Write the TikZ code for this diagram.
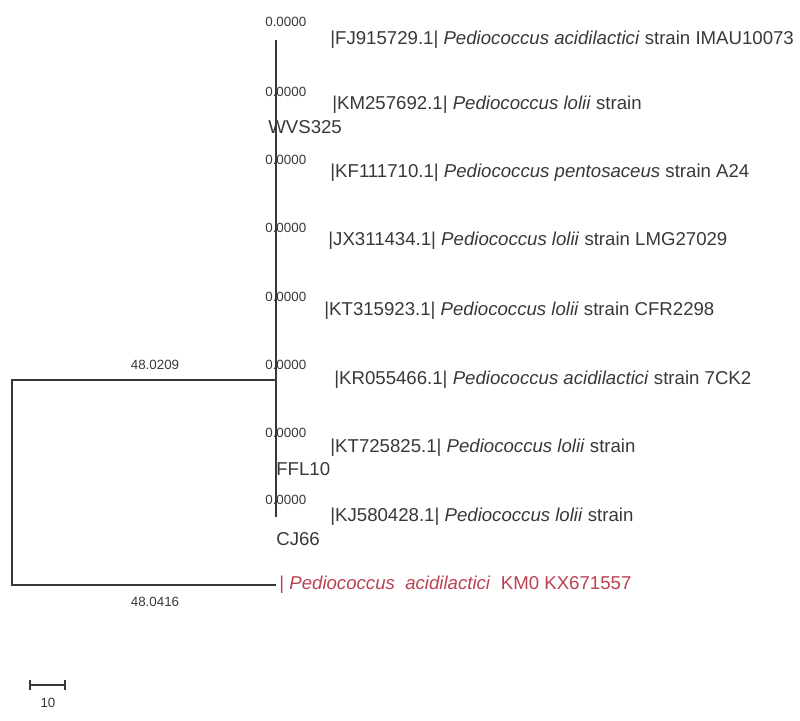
\documentclass[tikz,border=0pt]{standalone}
\usepackage{fontspec}
\setmainfont{Liberation Sans}
\usetikzlibrary{calc}
\definecolor{ink}{rgb}{0.22,0.22,0.22}
\definecolor{outred}{rgb}{0.72,0.26,0.32}

\begin{document}
\begin{tikzpicture}
      [x = 0.02cm, y = -0.02cm,
      branch/.style={
         draw = ink,
         line width = 0.6pt
      },
      taxon/.style= {
         anchor = west,
         inner sep = 0pt,
         text = ink,
         font = \fontsize{10.6}{12}\selectfont
      },
      blen/.style= {
         inner sep = 0pt,
         text = ink,
         font = \fontsize{7.6}{9}\selectfont
      }]
      \useasboundingbox (0,0) rectangle (800,720);

      % tree
      \coordinate (top) at (276,40);
      \coordinate (bot) at (276,517);
      \coordinate (clade) at (276,380);
      \coordinate (root) at (12,380);
      \coordinate (rootlow) at (12,585);
      \coordinate (out) at (276,585);
      \draw[branch] (top) -- (bot);
      \draw[branch] (clade) -- (root) -- (rootlow) -- (out);

      % branch lengths
      \node[blen] (b0) at (155,365) {48.0209};
      \node[blen] (b9) at (155,602) {48.0416};
      \foreach \n/\y in {1/22, 2/92, 3/160, 4/228, 5/297, 6/365, 7/433, 8/500}
         \node[blen, anchor = west] (b\n) at (265,\y) {0.0000};

      % taxa
      \node[taxon] (t1) at (330,40) {|FJ915729.1| \textit{Pediococcus acidilactici} strain IMAU10073};
      \node[taxon] (t2) at (332,105) {|KM257692.1| \textit{Pediococcus lolii} strain};
      \node[taxon] (t2b) at (268,127) {WVS325};
      \node[taxon] (t3) at (330,173) {|KF111710.1| \textit{Pediococcus pentosaceus} strain A24};
      \node[taxon] (t4) at (328,241) {|JX311434.1| \textit{Pediococcus lolii} strain LMG27029};
      \node[taxon] (t5) at (324,311) {|KT315923.1| \textit{Pediococcus lolii} strain CFR2298};
      \node[taxon] (t6) at (334,380) {|KR055466.1| \textit{Pediococcus acidilactici} strain 7CK2};
      \node[taxon] (t7) at (330,448) {|KT725825.1| \textit{Pediococcus lolii} strain};
      \node[taxon] (t7b) at (276,469) {FFL10};
      \node[taxon] (t8) at (330,517) {|KJ580428.1| \textit{Pediococcus lolii} strain};
      \node[taxon] (t8b) at (276,539) {CJ66};
      \node[taxon, text = outred] (t9) at (279,585) {| \textit{Pediococcus\ \ acidilactici}\ \ KM0 KX671557};

      % scale bar
      \coordinate (s1) at (30,685);
      \coordinate (s2) at (65,685);
      \draw[branch] (s1) -- (s2);
      \draw[branch] ($(s1)+(0,-5)$) -- ($(s1)+(0,5)$);
      \draw[branch] ($(s2)+(0,-5)$) -- ($(s2)+(0,5)$);
      \node[blen] (sl) at (48,703) {10};
\end{tikzpicture}
\end{document}
